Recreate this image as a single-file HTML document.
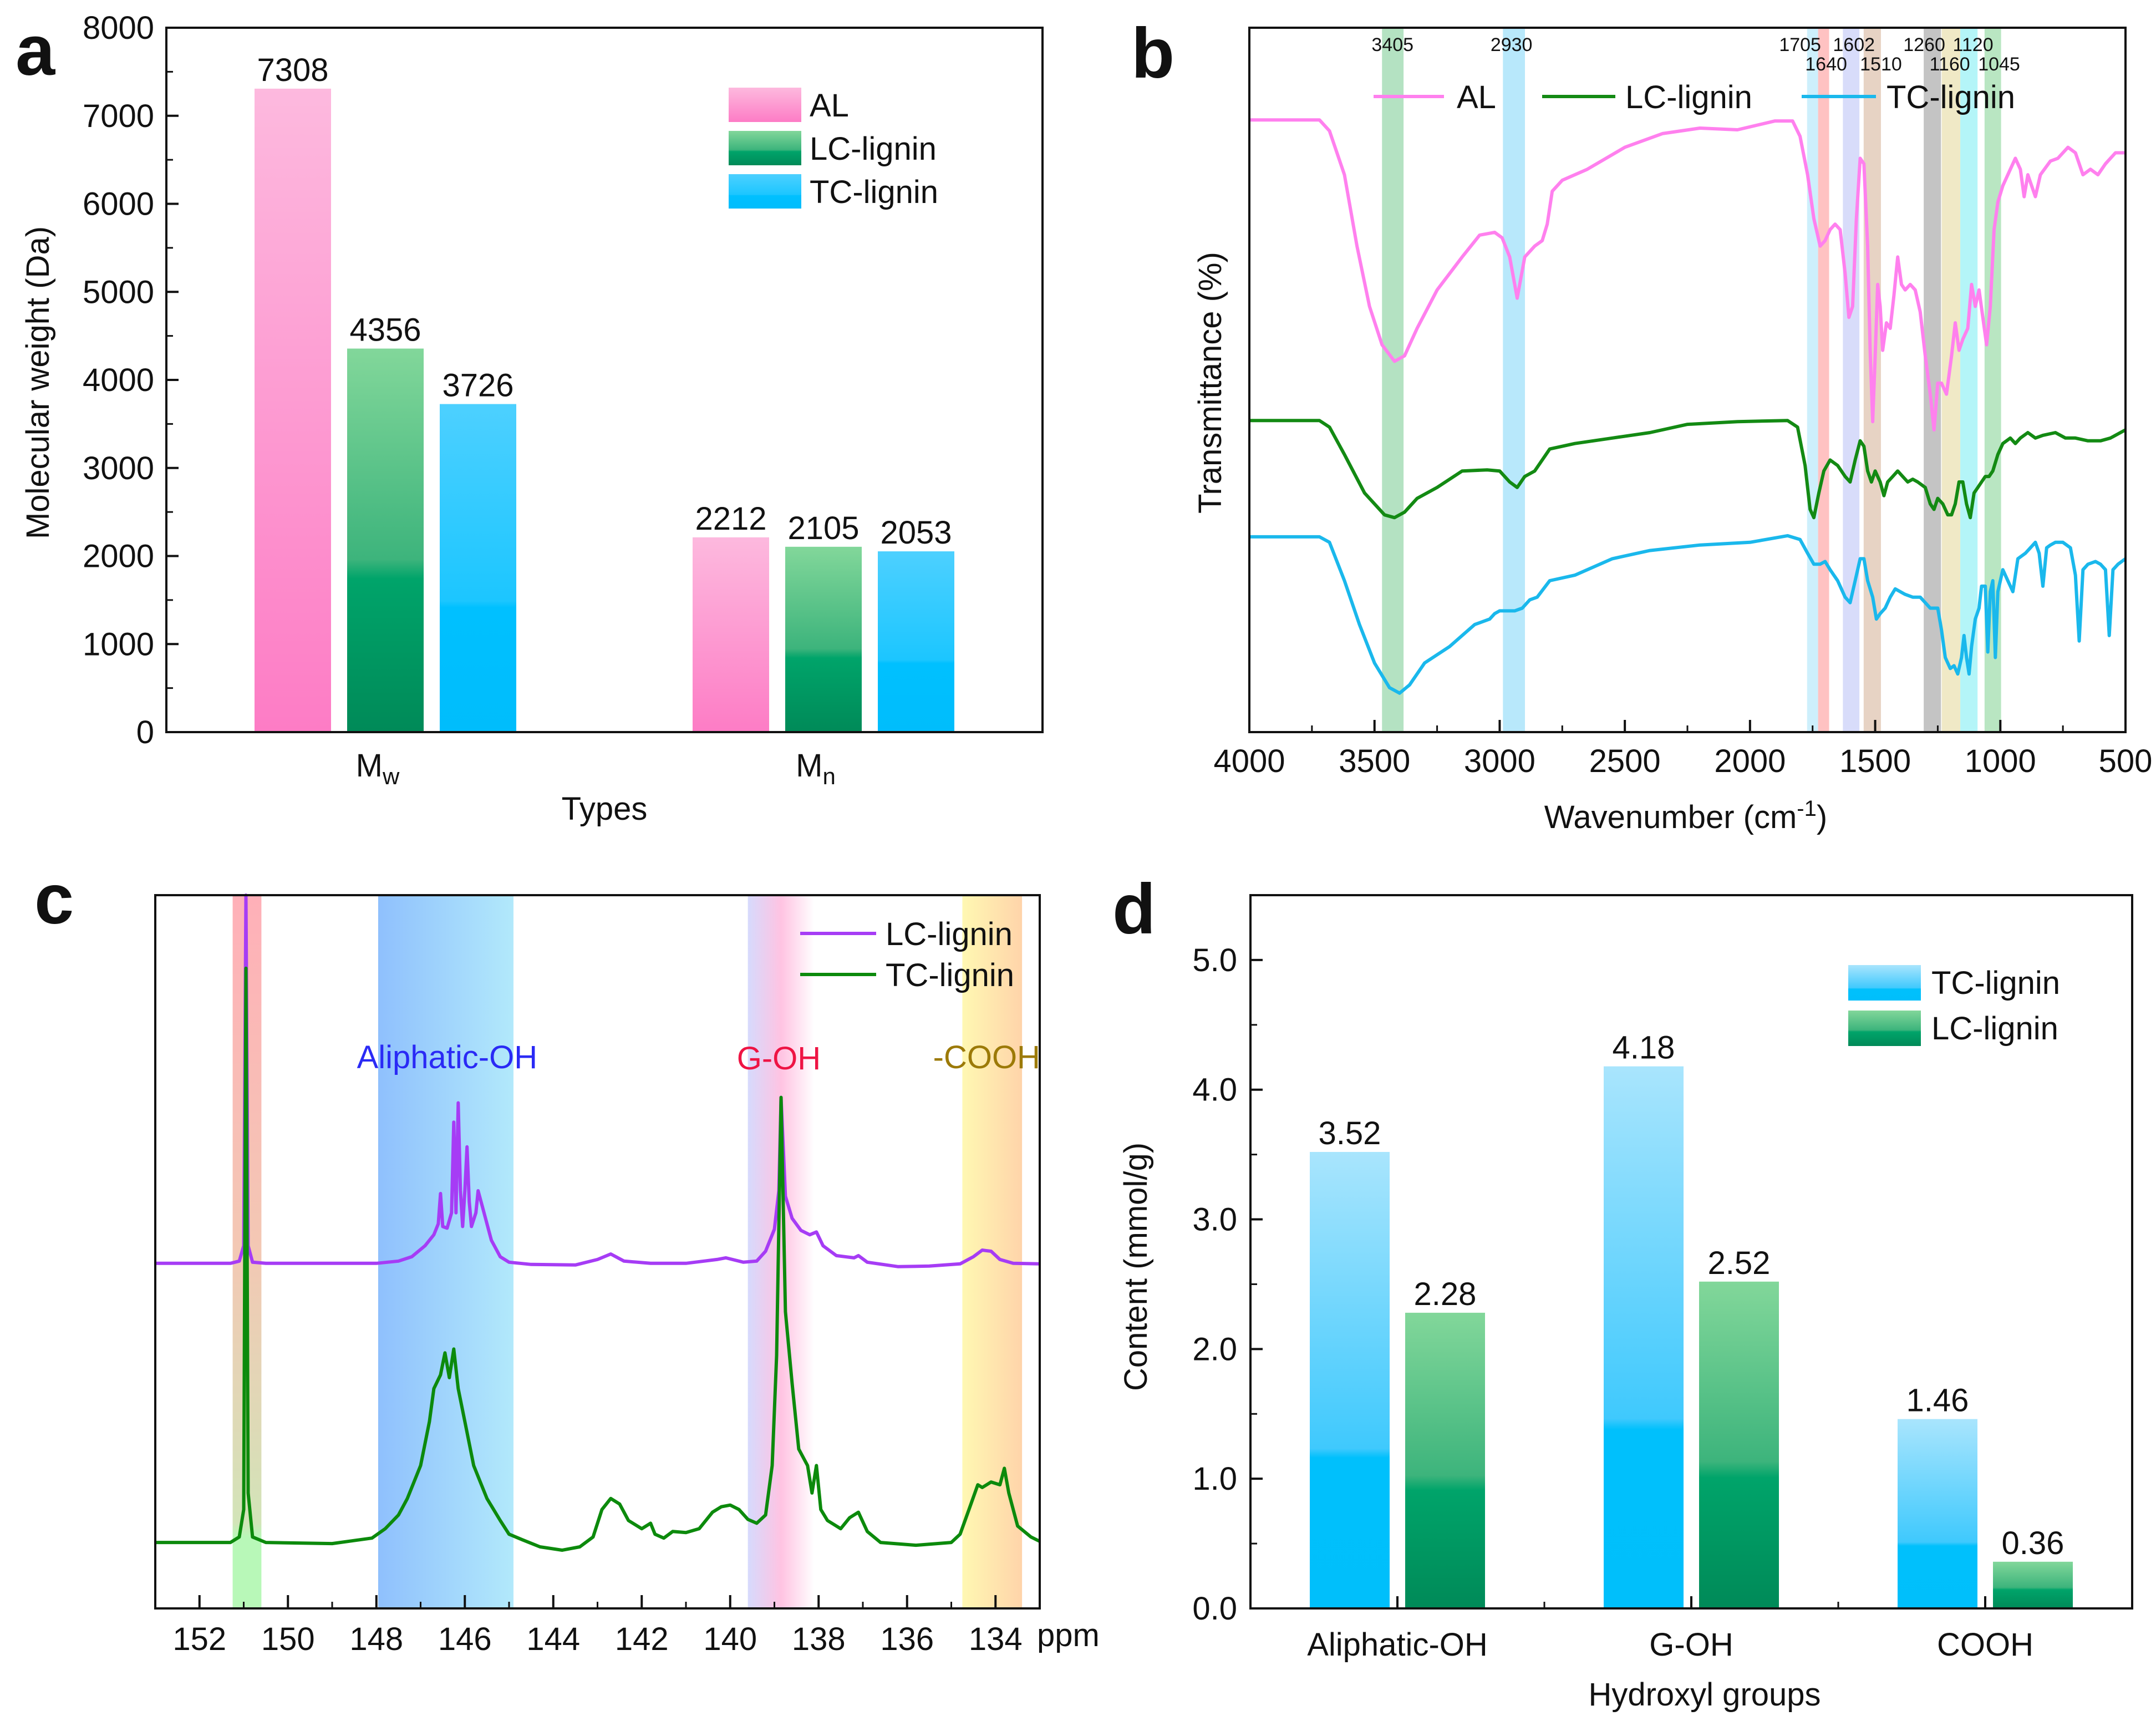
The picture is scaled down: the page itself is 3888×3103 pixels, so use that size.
<!DOCTYPE html>
<html><head><meta charset="utf-8">
<style>
html,body{margin:0;padding:0;background:#fff;}
svg{display:block;font-family:"Liberation Sans",Arial,sans-serif;}
</style></head>
<body>
<svg id="fig" width="3888" height="3103" viewBox="0 0 3888 3103" xmlns="http://www.w3.org/2000/svg">
<defs>
<linearGradient id="gPink" x1="0" y1="0" x2="0" y2="1"><stop offset="0" stop-color="#fdb9de"/><stop offset="1" stop-color="#fd7cc5"/></linearGradient>
<linearGradient id="gGreen" x1="0" y1="0" x2="0" y2="1"><stop offset="0" stop-color="#82d79a"/><stop offset="0.55" stop-color="#3db47c"/><stop offset="0.6" stop-color="#00a46a"/><stop offset="1" stop-color="#008a58"/></linearGradient>
<linearGradient id="gBlue" x1="0" y1="0" x2="0" y2="1"><stop offset="0" stop-color="#4dd0ff"/><stop offset="0.6" stop-color="#1cc6ff"/><stop offset="0.62" stop-color="#00c0ff"/><stop offset="1" stop-color="#00bdfc"/></linearGradient>
<linearGradient id="gBlueD" x1="0" y1="0" x2="0" y2="1"><stop offset="0" stop-color="#a9e5fd"/><stop offset="0.65" stop-color="#3fc9fd"/><stop offset="0.67" stop-color="#00c0fc"/><stop offset="1" stop-color="#00bffb"/></linearGradient>
<linearGradient id="cBand1" x1="0" y1="0" x2="0" y2="1"><stop offset="0" stop-color="#ffb0b8"/><stop offset="0.5" stop-color="#f3c8b4"/><stop offset="0.88" stop-color="#d2e4b8"/><stop offset="0.9" stop-color="#b8f8b8"/><stop offset="1" stop-color="#b8f8b8"/></linearGradient>
<linearGradient id="cBand2" x1="0" y1="0" x2="1" y2="0"><stop offset="0" stop-color="#8fc0fd"/><stop offset="1" stop-color="#b2e9fb"/></linearGradient>
<linearGradient id="cBand3" x1="0" y1="0" x2="1" y2="0"><stop offset="0" stop-color="#d6dafd"/><stop offset="0.5" stop-color="#ffc3e2"/><stop offset="1" stop-color="#ffffff"/></linearGradient>
<linearGradient id="cBand4" x1="0" y1="0" x2="1" y2="0"><stop offset="0" stop-color="#fff8b2"/><stop offset="1" stop-color="#ffd4aa"/></linearGradient>
</defs>
<g id="pa"></g>
<g id="pb"></g>
<g id="pc"></g>
<g id="pd"></g>
</svg>
<script>
// ---------- Panel a data ----------
const aCategories = ["Mw", "Mn"];
const aSeriesNames = ["AL", "LC-lignin", "TC-lignin"];
const aAL = [7308, 2212];
const aLC = [4356, 2105];
const aTC = [3726, 2053];
const aYTicks = [0, 1000, 2000, 3000, 4000, 5000, 6000, 7000, 8000];

// ---------- Panel b data (wavenumber, relative transmittance) ----------
const bXTicks = [4000, 3500, 3000, 2500, 2000, 1500, 1000, 500];
const bBands = [[3470,3384],[2987,2899],[1772,1728],[1728,1684],[1629,1563],[1546,1477],[1306,1237],[1234,1160],[1160,1091],[1063,997]];
const bBandLabels = ["3405","2930","1705","1640","1602","1510","1260","1160","1120","1045"];
const bLabelWn = [3428,2953,1800,1696,1585,1477,1304,1202,1109,1005];
const bLabelRow = [0,0,0,1,0,1,0,1,0,1];
const alSpectrum = [[4000,220],[3720,220],[3680,240],[3620,320],[3570,450],[3520,560],[3470,630],[3420,660],[3380,650],[3330,600],[3250,530],[3150,470],[3080,430],[3020,425],[2990,435],[2960,470],[2930,545],[2900,470],[2860,450],[2830,440],[2810,410],[2790,350],[2750,330],[2650,310],[2500,270],[2350,245],[2200,235],[2050,238],[1900,222],[1830,222],[1800,250],[1770,320],[1745,400],[1720,450],[1700,440],[1680,420],[1660,410],[1640,420],[1620,500],[1605,580],[1590,560],[1575,400],[1560,290],[1545,300],[1530,450],[1520,640],[1510,770],[1500,650],[1490,520],[1480,560],[1470,640],[1455,590],[1440,600],[1425,540],[1410,470],[1395,520],[1380,530],[1360,520],[1340,530],[1320,570],[1300,650],[1280,720],[1265,785],[1250,700],[1235,700],[1215,720],[1195,650],[1180,590],[1165,640],[1150,620],[1130,600],[1115,520],[1100,560],[1085,530],[1070,580],[1055,630],[1040,560],[1025,420],[1010,370],[990,340],[960,310],[940,290],[920,310],[905,360],[890,320],[875,340],[860,360],[840,320],[800,295],[770,290],[730,270],[700,280],[670,320],[640,310],[610,320],[580,300],[540,280],[500,280]];
const lcSpectrum = [[4000,768],[3720,768],[3680,780],[3620,830],[3540,900],[3460,940],[3420,945],[3380,935],[3330,910],[3250,890],[3150,860],[3050,858],[3000,860],[2960,880],[2930,890],[2900,870],[2860,860],[2800,820],[2700,810],[2550,800],[2400,790],[2250,775],[2050,770],[1850,768],[1810,780],[1780,850],[1760,930],[1745,945],[1725,900],[1705,860],[1680,840],[1650,850],[1620,870],[1600,880],[1580,840],[1560,805],[1545,815],[1530,860],[1515,880],[1500,860],[1480,880],[1465,905],[1450,880],[1430,870],[1410,860],[1390,870],[1370,880],[1350,875],[1330,880],[1300,890],[1280,920],[1265,930],[1250,910],[1230,920],[1210,940],[1195,940],[1180,920],[1165,880],[1150,880],[1135,920],[1120,945],[1105,900],[1090,890],[1075,880],[1060,870],[1045,870],[1030,860],[1010,830],[990,810],[960,800],[940,810],[920,800],[890,790],[860,800],[830,795],[780,790],[740,800],[700,800],[650,805],[600,805],[560,800],[500,785]];
const tcSpectrum = [[4000,980],[3720,980],[3680,990],[3620,1060],[3560,1140],[3500,1210],[3440,1255],[3400,1265],[3360,1250],[3300,1210],[3200,1180],[3100,1140],[3040,1130],[3020,1120],[3000,1115],[2970,1115],[2940,1115],[2910,1110],[2880,1095],[2850,1090],[2800,1060],[2700,1050],[2550,1020],[2400,1005],[2200,995],[2000,990],[1850,978],[1800,985],[1770,1010],[1745,1030],[1720,1030],[1700,1025],[1680,1040],[1650,1060],[1620,1090],[1600,1100],[1580,1060],[1560,1020],[1545,1020],[1530,1060],[1510,1090],[1495,1130],[1480,1120],[1460,1110],[1440,1090],[1420,1075],[1400,1080],[1380,1085],[1350,1090],[1320,1090],[1300,1100],[1280,1110],[1265,1110],[1250,1110],[1235,1150],[1220,1200],[1200,1220],[1185,1215],[1170,1230],[1155,1200],[1145,1160],[1135,1200],[1125,1230],[1115,1180],[1100,1130],[1085,1110],[1075,1070],[1060,1070],[1050,1190],[1040,1080],[1030,1060],[1020,1200],[1010,1080],[990,1040],[970,1060],[950,1080],[930,1020],[900,1010],[880,1000],[860,990],[845,1010],[830,1070],[815,1000],[800,995],[780,990],[750,990],[720,1000],[700,1050],[685,1170],[670,1040],[650,1030],[620,1025],[600,1030],[580,1040],[565,1160],[550,1040],[530,1030],[500,1020]];

// ---------- Panel c data (ppm, intensity offset) ----------
const cXTicks = [152, 150, 148, 146, 144, 142, 140, 138, 136, 134];
const cBands = [[151.25,150.6],[147.96,144.9],[139.6,138.1],[134.75,133.4]];
const lcNmr = [[153,732],[151.3,732],[151.1,728],[151.0,700],[150.95,62],[150.9,700],[150.8,730],[150.5,732],[148,732],[147.5,728],[147.2,720],[146.9,700],[146.7,680],[146.6,660],[146.55,605],[146.5,665],[146.4,668],[146.3,640],[146.25,475],[146.2,640],[146.15,440],[146.1,600],[146.05,665],[146.0,600],[145.95,520],[145.9,620],[145.85,665],[145.75,640],[145.7,600],[145.6,630],[145.4,690],[145.2,720],[145.0,730],[144.5,734],[143.5,735],[143,725],[142.7,715],[142.4,728],[141.8,732],[141,732],[140.3,725],[140.1,722],[139.7,730],[139.4,728],[139.2,710],[139.0,670],[138.9,600],[138.85,430],[138.75,610],[138.6,650],[138.4,672],[138.2,680],[138.05,675],[137.9,700],[137.6,718],[137.2,722],[137.1,718],[136.9,730],[136.2,738],[135.5,737],[134.8,733],[134.5,720],[134.3,708],[134.1,710],[133.9,725],[133.6,732],[133,733]];
const tcNmr = [[153,1240],[151.3,1240],[151.1,1230],[151.0,1180],[150.95,195],[150.9,1150],[150.8,1230],[150.5,1240],[149,1242],[148.1,1232],[147.8,1215],[147.5,1190],[147.3,1160],[147.0,1100],[146.8,1020],[146.7,960],[146.55,935],[146.45,895],[146.35,940],[146.25,888],[146.15,960],[146.0,1020],[145.8,1100],[145.5,1160],[145.2,1200],[145.0,1225],[144.7,1235],[144.3,1248],[143.8,1254],[143.4,1248],[143.1,1230],[142.9,1180],[142.7,1160],[142.5,1170],[142.3,1200],[142.0,1215],[141.8,1205],[141.7,1225],[141.5,1232],[141.3,1220],[141.0,1222],[140.7,1215],[140.4,1185],[140.2,1175],[140.0,1172],[139.8,1180],[139.6,1198],[139.4,1205],[139.2,1190],[139.05,1100],[138.95,900],[138.85,430],[138.75,820],[138.6,950],[138.45,1070],[138.35,1085],[138.25,1100],[138.15,1150],[138.05,1100],[137.95,1180],[137.8,1200],[137.5,1215],[137.3,1195],[137.1,1185],[136.9,1220],[136.6,1240],[135.8,1245],[135.0,1240],[134.8,1225],[134.6,1180],[134.4,1135],[134.3,1140],[134.1,1130],[133.9,1135],[133.8,1105],[133.7,1150],[133.5,1210],[133.2,1230],[133,1238]];

// ---------- Panel d data ----------
const dCategories = ["Aliphatic-OH", "G-OH", "COOH"];
const dTC = [3.52, 4.18, 1.46];
const dLC = [2.28, 2.52, 0.36];
const dTCLabels = ["3.52", "4.18", "1.46"];
const dLCLabels = ["2.28", "2.52", "0.36"];
const dYTicks = [0, 1, 2, 3, 4, 5];
const dYTickLabels = ["0.0", "1.0", "2.0", "3.0", "4.0", "5.0"];

const NS = "http://www.w3.org/2000/svg";
function mk(parent, tag, attrs, txt) {
  const e = document.createElementNS(NS, tag);
  for (const k in attrs) e.setAttribute(k, attrs[k]);
  if (txt !== undefined) e.textContent = txt;
  parent.appendChild(e);
  return e;
}
const FS = 58;

// ================= PANEL A =================
(function(){
  const g = document.getElementById('pa');
  const L=300, R=1880, T=50, B=1320;
  const y = v => B - (v/8000)*(B-T);
  const xc = i => L + (i+0.5)/2*(R-L);
  const bw = 138, pitch = 167;
  const fills = ["url(#gPink)","url(#gGreen)","url(#gBlue)"];
  const series = [aAL, aLC, aTC];
  series.forEach((arr, s) => {
    arr.forEach((v, i) => {
      const x0 = xc(i) + (s-1)*pitch - bw/2;
      const r = mk(g,'rect',{x:x0,y:y(v),width:bw,height:B-y(v),fill:fills[s]});
      
      
      const t = mk(g,'text',{x:x0+bw/2,y:y(v)-14,'font-size':FS,'text-anchor':'middle',fill:'#111'}, String(v));
      
      
    });
  });
  const fr = mk(g,'rect',{x:L,y:T,width:R-L,height:B-T,fill:'none',stroke:'#111','stroke-width':4});
   
  aYTicks.forEach(v => {
    mk(g,'line',{x1:L,x2:L+22,y1:y(v),y2:y(v),stroke:'#111','stroke-width':4});
    if (v<8000) mk(g,'line',{x1:L,x2:L+12,y1:y(v+500),y2:y(v+500),stroke:'#111','stroke-width':3});
    const t = mk(g,'text',{x:L-22,y:y(v)+20,'font-size':FS,'text-anchor':'end',fill:'#111'}, String(v));
     
  });
  aCategories.forEach((c,i) => {
    const t = mk(g,'text',{x:xc(i)-14,y:1400,'font-size':FS,'text-anchor':'middle',fill:'#111'});
     
    t.innerHTML = 'M<tspan font-size="42" dy="14">' + c.slice(1) + '</tspan>';
  });
  mk(g,'text',{x:1090,y:1478,'font-size':FS,'text-anchor':'middle',fill:'#111',},'Types');
  mk(g,'text',{x:0,y:0,'font-size':FS,'text-anchor':'middle',fill:'#111',transform:'translate(88,690) rotate(-90)',},'Molecular weight (Da)');
  mk(g,'text',{x:28,y:135,'font-size':128,'font-weight':'bold',fill:'#111',},'a');
  aSeriesNames.forEach((n,s) => {
    const yy = 158 + s*78;
    const r = mk(g,'rect',{x:1314,y:yy,width:131,height:62,fill:fills[s]});
     
    const t = mk(g,'text',{x:1460,y:yy+52,'font-size':FS,fill:'#111'}, n);
     
  });
})();

// ================= PANEL B =================
(function(){
  const g = document.getElementById('pb');
  const L=2253, R=3833, T=50, B=1320;
  const x = w => L + (4000-w)/3500*(R-L);
  const y = v => T + (v-52)/(1336-52)*(B-T);
  const bandCols = ["#b4e2c2","#b8e8fb","#cdeffc","#ffc2c2","#d8dcfa","#e7d3c4","#c4c4c4","#f0e9c6","#b4f5f8","#b9e6c2"];
  bBands.forEach((b,i) => {
    const r = mk(g,'rect',{x:x(b[0]),y:T,width:x(b[1])-x(b[0]),height:B-T,fill:bandCols[i]});
     
  });
  bBandLabels.forEach((lab,i) => {
    const t = mk(g,'text',{x:x(bLabelWn[i]),y:bLabelRow[i]?127:92,'font-size':34,'text-anchor':'middle',fill:'#111'}, lab);
     
  });
  const specs = [[alSpectrum,'#ff80ee','al'],[lcSpectrum,'#138a13','lc-lignin'],[tcSpectrum,'#1ab8ec','tc-lignin']];
  specs.forEach(s => {
    const d = s[0].map((p,i)=>(i?'L':'M')+x(p[0]).toFixed(1)+' '+y(p[1]).toFixed(1)).join(' ');
    const p = mk(g,'path',{d:d,fill:'none',stroke:s[1],'stroke-width':6,'stroke-linejoin':'round'});
     
  });
  mk(g,'rect',{x:L,y:T,width:R-L,height:B-T,fill:'none',stroke:'#111','stroke-width':4,});
  bXTicks.forEach(w => {
    mk(g,'line',{x1:x(w),x2:x(w),y1:B,y2:B-22,stroke:'#111','stroke-width':4});
    if (w>500) mk(g,'line',{x1:x(w-250),x2:x(w-250),y1:B,y2:B-12,stroke:'#111','stroke-width':3});
    const t = mk(g,'text',{x:x(w),y:1392,'font-size':FS,'text-anchor':'middle',fill:'#111'}, String(w));
     
  });
  const xt = mk(g,'text',{x:3040,y:1493,'font-size':FS,'text-anchor':'middle',fill:'#111',});
  xt.innerHTML = 'Wavenumber (cm<tspan font-size="40" dy="-22">-1</tspan><tspan dy="22">)</tspan>';
  mk(g,'text',{x:0,y:0,'font-size':FS,'text-anchor':'middle',fill:'#111',transform:'translate(2202,690) rotate(-90)',},'Transmittance (%)');
  mk(g,'text',{x:2040,y:140,'font-size':128,'font-weight':'bold',fill:'#111',},'b');
  const leg = [[2477,2604,2627,'AL','#ff80ee'],[2781,2913,2931,'LC-lignin','#138a13'],[3249,3383,3402,'TC-lignin','#1ab8ec']];
  leg.forEach(l => {
    mk(g,'line',{x1:l[0],x2:l[1],y1:174,y2:174,stroke:l[4],'stroke-width':6,});
    const t = mk(g,'text',{x:l[2],y:195,'font-size':FS,fill:'#111'}, l[3]);
     
  });
})();

// ================= PANEL C =================
(function(){
  const g = document.getElementById('pc');
  const L=280, R=1875, T=1614, B=2900;
  const x = p => L + (153-p)/20*(R-L);
  const y = v => T + (v-62)/(1360-62)*(B-T);
  const bandFills = ["url(#cBand1)","url(#cBand2)","url(#cBand3)","url(#cBand4)"];
  cBands.forEach((b,i) => {
    const r = mk(g,'rect',{x:x(b[0]),y:T,width:x(b[1])-x(b[0]),height:B-T,fill:bandFills[i]});
     
  });
  const specs = [[lcNmr,'#a63cf5','lc-lignin'],[tcNmr,'#0c8a0c','tc-lignin']];
  specs.forEach(s => {
    const d = s[0].map((p,i)=>(i?'L':'M')+x(p[0]).toFixed(1)+' '+y(p[1]).toFixed(1)).join(' ');
    const p = mk(g,'path',{d:d,fill:'none',stroke:s[1],'stroke-width':6,'stroke-linejoin':'round'});
     
  });
  mk(g,'rect',{x:L,y:T,width:R-L,height:B-T,fill:'none',stroke:'#111','stroke-width':4,});
  cXTicks.forEach(p => {
    mk(g,'line',{x1:x(p),x2:x(p),y1:B,y2:B-24,stroke:'#111','stroke-width':4});
    mk(g,'line',{x1:x(p-1),x2:x(p-1),y1:B,y2:B-12,stroke:'#111','stroke-width':3});
    const t = mk(g,'text',{x:x(p),y:2975,'font-size':FS,'text-anchor':'middle',fill:'#111'}, String(p));
     
  });
  mk(g,'text',{x:1870,y:2968,'font-size':FS,fill:'#111',},'ppm');
  mk(g,'text',{x:x(146.4),y:1926,'font-size':FS,'text-anchor':'middle',fill:'#2a2af5',},'Aliphatic-OH');
  mk(g,'text',{x:x(138.9),y:1928,'font-size':FS,'text-anchor':'middle',fill:'#ee1444',},'G-OH');
  mk(g,'text',{x:x(134.2),y:1926,'font-size':FS,'text-anchor':'middle',fill:'#9c7a08',},'-COOH');
  mk(g,'text',{x:62,y:1665,'font-size':128,'font-weight':'bold',fill:'#111',},'c');
  const leg = [[1683,'LC-lignin','#a63cf5'],[1757,'TC-lignin','#0c8a0c']];
  leg.forEach(l => {
    mk(g,'line',{x1:1443,x2:1580,y1:l[0],y2:l[0],stroke:l[2],'stroke-width':6,});
    const t = mk(g,'text',{x:1597,y:l[0]+21,'font-size':FS,fill:'#111'}, l[1]);
     
  });
})();

// ================= PANEL D =================
(function(){
  const g = document.getElementById('pd');
  const L=2255, R=3845, T=1614, B=2900;
  const y = v => B - v/5.5*(B-T);
  const xc = i => L + (i+0.5)/3*(R-L);
  const bw = 144, off = 14;
  dCategories.forEach((c,i) => {
    const x1 = xc(i) - off - bw;
    const r1 = mk(g,'rect',{x:x1,y:y(dTC[i]),width:bw,height:B-y(dTC[i]),fill:'url(#gBlueD)'});
     
    const t1 = mk(g,'text',{x:x1+bw/2,y:y(dTC[i])-14,'font-size':FS,'text-anchor':'middle',fill:'#111'}, dTCLabels[i]);
     
    const x2 = xc(i) + off;
    const r2 = mk(g,'rect',{x:x2,y:y(dLC[i]),width:bw,height:B-y(dLC[i]),fill:'url(#gGreen)'});
     
    const t2 = mk(g,'text',{x:x2+bw/2,y:y(dLC[i])-14,'font-size':FS,'text-anchor':'middle',fill:'#111'}, dLCLabels[i]);
     
    const t3 = mk(g,'text',{x:xc(i),y:2985,'font-size':FS,'text-anchor':'middle',fill:'#111'}, c);
     
    mk(g,'line',{x1:xc(i),x2:xc(i),y1:B,y2:B-22,stroke:'#111','stroke-width':4});
    if (i>0) mk(g,'line',{x1:L+i/3*(R-L),x2:L+i/3*(R-L),y1:B,y2:B-12,stroke:'#111','stroke-width':3});
  });
  mk(g,'rect',{x:L,y:T,width:R-L,height:B-T,fill:'none',stroke:'#111','stroke-width':4,});
  dYTicks.forEach((v,i) => {
    mk(g,'line',{x1:L,x2:L+22,y1:y(v),y2:y(v),stroke:'#111','stroke-width':4});
    mk(g,'line',{x1:L,x2:L+12,y1:y(v+0.5),y2:y(v+0.5),stroke:'#111','stroke-width':3});
    const t = mk(g,'text',{x:L-24,y:y(v)+20,'font-size':FS,'text-anchor':'end',fill:'#111'}, dYTickLabels[i]);
     
  });
  mk(g,'text',{x:3074,y:3075,'font-size':FS,'text-anchor':'middle',fill:'#111',},'Hydroxyl groups');
  mk(g,'text',{x:0,y:0,'font-size':FS,'text-anchor':'middle',fill:'#111',transform:'translate(2068,2284) rotate(-90)',},'Content (mmol/g)');
  mk(g,'text',{x:2006,y:1683,'font-size':128,'font-weight':'bold',fill:'#111',},'d');
  const leg = [[1740,'TC-lignin','url(#gBlueD)'],[1822,'LC-lignin','url(#gGreen)']];
  leg.forEach(l => {
    const r = mk(g,'rect',{x:3333,y:l[0],width:131,height:64,fill:l[2]});
     
    const t = mk(g,'text',{x:3483,y:l[0]+52,'font-size':FS,fill:'#111'}, l[1]);
     
  });
})();
</script>
</body></html>
